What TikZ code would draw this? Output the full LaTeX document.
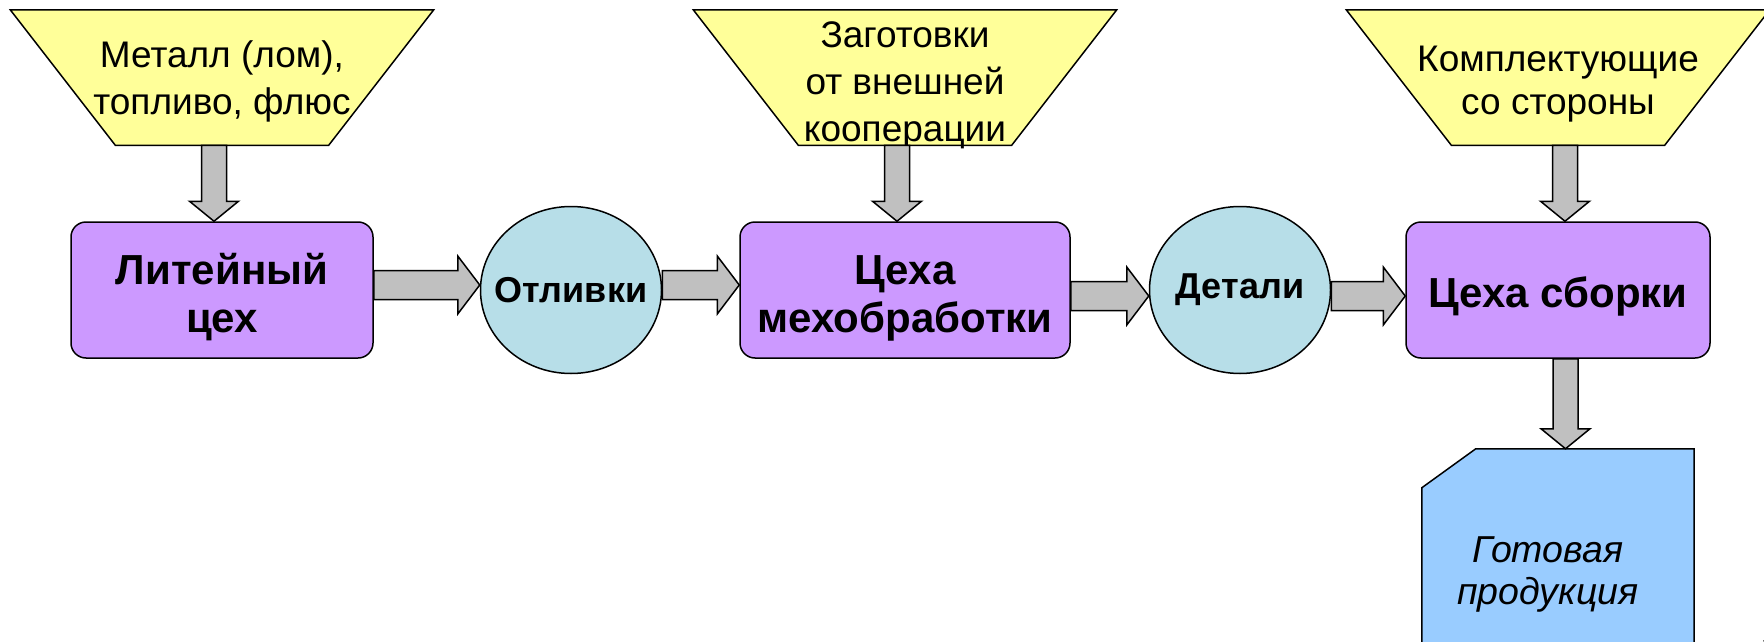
\documentclass[tikz,border=0pt]{standalone}
\usepackage{fontspec}
\setmainfont{Liberation Sans}
\usepackage{xcolor}
\usetikzlibrary{backgrounds,calc,positioning,shapes.geometric}
\definecolor{supplyyellow}{HTML}{FFFF99}
\definecolor{shopviolet}{HTML}{CC99FF}
\definecolor{partcyan}{HTML}{B7DEE8}
\definecolor{flowgray}{HTML}{C0C0C0}
\definecolor{goodsblue}{HTML}{99CCFF}
\tikzset{%
	shop/.style       = {draw, rectangle, rounded corners=15pt, fill=shopviolet, line width=1.5pt, minimum width=302pt, minimum height=136pt, text height=44pt, align=center, font=\fontsize{42}{48}\selectfont\bfseries}, % Workshop
	twoline/.style    = {text height=94pt},
	part/.style       = {draw, ellipse, fill=partcyan, line width=1.5pt, minimum width=181pt, minimum height=167pt, inner sep=0pt, font=\fontsize{36}{40}\selectfont\bfseries,
		execute at begin node={\hbox to 0pt\bgroup\hss}, execute at end node={\hss\egroup}}, % Intermediate
	supply/.style     = {rectangle, minimum width=423pt, minimum height=135pt, inner sep=0pt}, % Input
	supplytext/.style = {inner sep=0pt, align=center, font=\fontsize{37}{47}\selectfont},
	supplyshape/.style = {draw, fill=supplyyellow, line width=1.5pt, line join=miter},
	goods/.style      = {rectangle, minimum width=272pt, minimum height=252pt, inner sep=0pt}, % Output
	goodstext/.style  = {inner sep=0pt, align=center, font=\fontsize{37.5}{42}\selectfont\itshape},
	goodsshape/.style = {draw, fill=goodsblue, line width=1.5pt},
	pagenum/.style    = {inner sep=0pt, font=\fontsize{30}{36}\selectfont\bfseries\itshape},
	blockarrow/.style = {draw, fill=flowgray, line width=1.5pt, line join=miter},
}
% horizontal block arrow, #1 = vertical offset
\newcommand{\rightflow}[3][0]{%
	\draw[blockarrow] let \p1 = (#2.east), \p2 = (#3.west) in
		(\x1, {\y1+(#1)+14.5}) -- (\x2-22, {\y1+(#1)+14.5}) -- (\x2-22, {\y1+(#1)+29}) -- (\x2, {\y1+(#1)})
		-- (\x2-22, {\y1+(#1)-29}) -- (\x2-22, {\y1+(#1)-14.5}) -- (\x1, {\y1+(#1)-14.5}) -- cycle;}
% vertical block arrow, #1 = horizontal offset
\newcommand{\downflow}[3][0]{%
	\draw[blockarrow] let \p1 = (#2.south), \p2 = (#3.north) in
		({\x1+(#1)-12.5}, \y1) -- ({\x1+(#1)+12.5}, \y1) -- ({\x1+(#1)+12.5}, \y2+20) -- ({\x1+(#1)+24.5}, \y2+20)
		-- ({\x1+(#1)}, \y2) -- ({\x1+(#1)-24.5}, \y2+20) -- ({\x1+(#1)-12.5}, \y2+20) -- cycle;}

\begin{document}
\begin{tikzpicture}[x=1pt, y=1pt]
	\useasboundingbox (0,0) rectangle (1764,-642);
	\node[shop, twoline] (casting) at (222,-290) {Литейный\\цех};
	\node[part, right=106pt of casting] (castings) {Отливки};
	\node[shop, twoline, minimum width=330pt, right=77pt of castings] (machining) {Цеха\\мехобработки};
	\node[part, right=78pt of machining] (details) {Детали};
	\node[shop, minimum width=304pt, right=74pt of details] (assembly) {Цеха сборки};
	\node[supply, above=76pt of casting] (metal) {};
	\node[supply, above=76pt of machining] (blanks) {};
	\node[supply, above=76pt of assembly] (comps) {};
	\node[goods, below=90pt of assembly] (product) {};
	\node[supplytext, yshift=-4pt] (metaltext) at (metal) {Металл (лом),\\топливо, флюс};
	\node[supplytext, yshift=-8pt] (blankstext) at (blanks) {Заготовки\\от внешней\\кооперации};
	\node[supplytext, yshift=-7pt] (compstext) at (comps) {Комплектующие\\[-4pt]со стороны};
	\node[goodstext, xshift=-10pt] (producttext) at (product) {Готовая\\продукция};
	\node[pagenum, anchor=base west] (page) at (1763,-645) {5};
	\begin{scope}[on background layer]
		\foreach \n in {metal, blanks, comps}
			\draw[supplyshape] (\n.north west) -- (\n.north east) -- ([xshift=-105pt]\n.south east) -- ([xshift=105pt]\n.south west) -- cycle;
		\draw[goodsshape] ([xshift=54pt]product.north west) -- (product.north east) -- (product.south east) -- (product.south west) -- ([yshift=-39pt]product.north west) -- cycle;
	\end{scope}
	\downflow[-8]{metal}{casting}
	\downflow[-8]{blanks}{machining}
	\downflow[7]{comps}{assembly}
	\downflow[7.5]{assembly}{product}
	\rightflow[5]{casting}{castings}
	\rightflow[5]{castings}{machining}
	\rightflow[-6]{machining}{details}
	\rightflow[-6]{details}{assembly}
\end{tikzpicture}
\end{document}
